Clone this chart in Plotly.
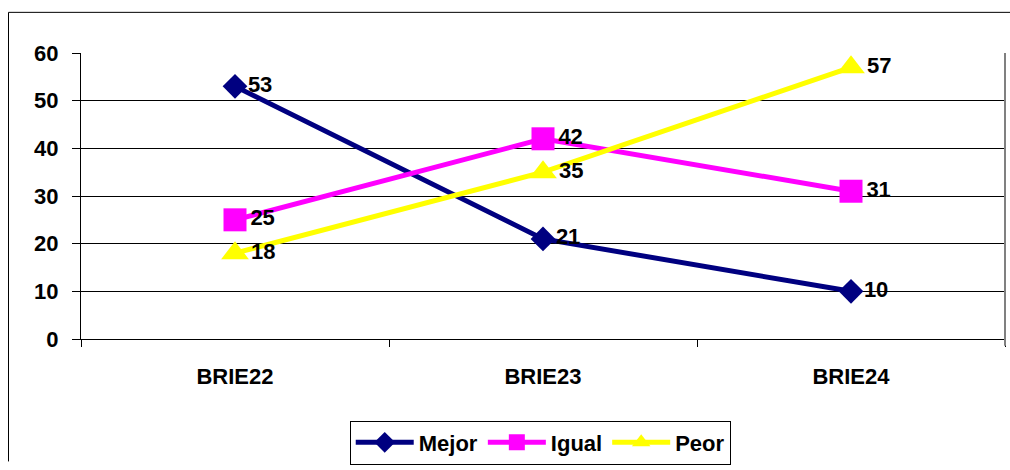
import plotly.graph_objects as go

categories = ["BRIE22", "BRIE23", "BRIE24"]
mejor = [53, 21, 10]
igual = [25, 42, 31]
peor = [18, 35, 57]
y_ticks = [0, 10, 20, 30, 40, 50, 60]

FONT = "Arial, 'Liberation Sans', sans-serif"
FS = 22

series = [
    ("Mejor", mejor, "#000080", "diamond", 19),
    ("Igual", igual, "#FF00FF", "square", 23),
    ("Peor", peor, "#FFFF00", "triangle-up", 24),
]

fig = go.Figure()
for name, vals, color, sym, size in series:
    fig.add_trace(go.Scatter(
        x=categories, y=vals, name=name, mode="lines+markers+text",
        line=dict(color=color, width=5),
        marker=dict(color=color, symbol=sym, size=size),
        text=[str(v) for v in vals], textposition="middle right",
        textfont=dict(family=FONT, size=FS, color="black", weight="bold"),
        cliponaxis=False,
    ))

# plot area in pixels: x 81..1005, y 53..345
PX0, PW, PY0, PH = 81, 924, 345, 292
def px(x):
    return (x - PX0) / PW
def py(y):
    return (PY0 - y) / PH

fig.update_layout(
    width=1010, height=470,
    margin=dict(l=81, r=5, t=53, b=125),
    paper_bgcolor="white", plot_bgcolor="white",
    font=dict(family=FONT, size=FS, color="black", weight="bold"),
    showlegend=True,
    legend=dict(
        orientation="h", x=0.497, xanchor="center", y=-0.285, yanchor="top",
        bordercolor="black", borderwidth=1, bgcolor="white",
        font=dict(family=FONT, size=FS, color="black", weight="bold"),
        itemwidth=58, tracegroupgap=0,
    ),
    xaxis=dict(
        type="category", range=[-0.5, 2.5],
        showline=True, linecolor="black", linewidth=1,
        ticks="outside", tickson="boundaries", ticklen=7, tickcolor="black",
        showgrid=False, tickfont=dict(family=FONT, size=FS, color="black", weight="bold"),
        ticklabelstandoff=18,
    ),
    yaxis=dict(
        range=[0, 60], tickvals=y_ticks,
        showline=True, linecolor="black", linewidth=1,
        ticks="outside", ticklen=8, tickcolor="black",
        showgrid=True, gridcolor="black", gridwidth=1,
        zeroline=False,
        tickfont=dict(family=FONT, size=FS, color="black", weight="bold"),
        ticklabelstandoff=9,
    ),
    shapes=[
        dict(type="line", xref="paper", yref="paper", x0=1, x1=1, y0=py(352), y1=1,
             line=dict(color="gray", width=2)),
        dict(type="line", xref="paper", yref="paper",
             x0=px(8.5), x1=px(1010), y0=py(11.5), y1=py(11.5),
             line=dict(color="black", width=1)),
        dict(type="line", xref="paper", yref="paper",
             x0=px(8.5), x1=px(8.5), y0=py(11.5), y1=py(470),
             line=dict(color="black", width=1)),
    ],
)

fig.write_html(
    "out.html",
    config={"displayModeBar": False},
    post_script="document.body.style.margin='0';document.body.style.padding='0';",
)
